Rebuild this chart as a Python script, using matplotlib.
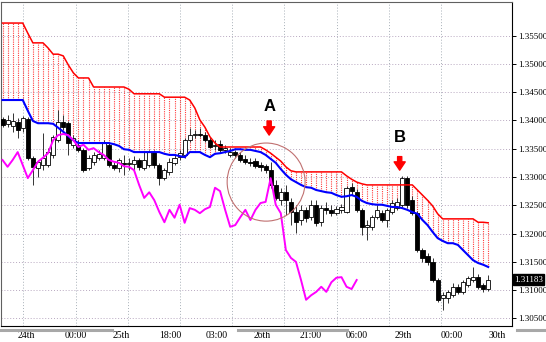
import numpy as np
import matplotlib.pyplot as plt
from matplotlib.patches import Ellipse
from matplotlib.lines import Line2D
import matplotlib.transforms as mtransforms

# candles (hourly bars)
opens = [1.3402, 1.3394, 1.3390, 1.3397, 1.3387, 1.3402, 1.3334, 1.3316, 1.3321, 1.3321,
         1.3339, 1.3365, 1.3397, 1.3395, 1.3357, 1.3357, 1.3348, 1.3316, 1.3327, 1.3334,
         1.3334, 1.3357, 1.3321, 1.3316, 1.3325, 1.3323, 1.3323, 1.3330, 1.3316, 1.3321,
         1.3344, 1.3321, 1.3298, 1.3309, 1.3325, 1.3335, 1.3339, 1.3365, 1.3374, 1.3376,
         1.3374, 1.3365, 1.3355, 1.3358, 1.3348, 1.3339, 1.3344, 1.3339, 1.3332, 1.3327,
         1.3328, 1.3321, 1.3319, 1.3312, 1.3286, 1.3259, 1.3273, 1.3256, 1.3238, 1.3224,
         1.3242, 1.3229, 1.3251, 1.3220, 1.3245, 1.3242, 1.3236, 1.3242, 1.3238, 1.3282,
         1.3273, 1.3242, 1.3212, 1.3212, 1.3229, 1.3236, 1.3224, 1.3238, 1.3245, 1.3251,
         1.3298, 1.3259, 1.3236, 1.3171, 1.3160, 1.3150, 1.3118, 1.3086, 1.3086, 1.3091,
         1.3106, 1.3097, 1.3109, 1.3118, 1.3123, 1.3109, 1.3102]
highs = [1.3406, 1.3410, 1.3413, 1.3404, 1.3408, 1.3406, 1.3337, 1.3330, 1.3378, 1.3351,
         1.3374, 1.3418, 1.3410, 1.3399, 1.3374, 1.3365, 1.3351, 1.3339, 1.3344, 1.3348,
         1.3365, 1.3362, 1.3327, 1.3334, 1.3339, 1.3334, 1.3337, 1.3334, 1.3344, 1.3348,
         1.3348, 1.3325, 1.3316, 1.3334, 1.3339, 1.3348, 1.3369, 1.3387, 1.3383, 1.3387,
         1.3380, 1.3371, 1.3365, 1.3365, 1.3357, 1.3351, 1.3348, 1.3344, 1.3339, 1.3334,
         1.3334, 1.3327, 1.3323, 1.3327, 1.3295, 1.3281, 1.3286, 1.3263, 1.3251, 1.3251,
         1.3247, 1.3259, 1.3259, 1.3251, 1.3256, 1.3251, 1.3249, 1.3252, 1.3284, 1.3289,
         1.3279, 1.3245, 1.3224, 1.3233, 1.3251, 1.3242, 1.3245, 1.3259, 1.3263, 1.3302,
         1.3302, 1.3266, 1.3240, 1.3175, 1.3166, 1.3157, 1.3122, 1.3097, 1.3100, 1.3113,
         1.3111, 1.3118, 1.3125, 1.3141, 1.3129, 1.3113, 1.3127]
lows = [1.3388, 1.3388, 1.3380, 1.3369, 1.3380, 1.3330, 1.3286, 1.3300, 1.3312, 1.3318,
        1.3334, 1.3362, 1.3383, 1.3339, 1.3351, 1.3344, 1.3309, 1.3312, 1.3321, 1.3330,
        1.3330, 1.3318, 1.3312, 1.3309, 1.3304, 1.3312, 1.3309, 1.3312, 1.3312, 1.3318,
        1.3316, 1.3286, 1.3295, 1.3304, 1.3321, 1.3330, 1.3334, 1.3362, 1.3369, 1.3371,
        1.3362, 1.3351, 1.3348, 1.3344, 1.3342, 1.3335, 1.3334, 1.3327, 1.3323, 1.3319,
        1.3316, 1.3311, 1.3307, 1.3281, 1.3259, 1.3251, 1.3233, 1.3215, 1.3201, 1.3215,
        1.3220, 1.3224, 1.3213, 1.3213, 1.3235, 1.3231, 1.3233, 1.3236, 1.3236, 1.3268,
        1.3238, 1.3198, 1.3189, 1.3206, 1.3226, 1.3220, 1.3212, 1.3235, 1.3242, 1.3247,
        1.3245, 1.3233, 1.3167, 1.3150, 1.3145, 1.3114, 1.3079, 1.3065, 1.3077, 1.3088,
        1.3093, 1.3093, 1.3106, 1.3114, 1.3102, 1.3097, 1.3099]
closes = [1.3392, 1.3401, 1.3399, 1.3383, 1.3404, 1.3334, 1.3318, 1.3327, 1.3334, 1.3344,
          1.3371, 1.3397, 1.3388, 1.3360, 1.3369, 1.3348, 1.3312, 1.3334, 1.3339, 1.3341,
          1.3360, 1.3321, 1.3316, 1.3330, 1.3323, 1.3325, 1.3330, 1.3318, 1.3330, 1.3344,
          1.3321, 1.3298, 1.3312, 1.3327, 1.3334, 1.3342, 1.3365, 1.3374, 1.3376, 1.3374,
          1.3365, 1.3353, 1.3357, 1.3348, 1.3351, 1.3344, 1.3339, 1.3330, 1.3327, 1.3325,
          1.3319, 1.3318, 1.3312, 1.3286, 1.3263, 1.3273, 1.3259, 1.3238, 1.3220, 1.3242,
          1.3228, 1.3251, 1.3219, 1.3245, 1.3242, 1.3236, 1.3243, 1.3247, 1.3281, 1.3275,
          1.3242, 1.3212, 1.3215, 1.3229, 1.3242, 1.3224, 1.3242, 1.3254, 1.3256, 1.3298,
          1.3251, 1.3236, 1.3171, 1.3157, 1.3150, 1.3118, 1.3083, 1.3091, 1.3097, 1.3106,
          1.3097, 1.3114, 1.3122, 1.3123, 1.3106, 1.3102, 1.3118]

# ichimoku lines
span_b = [1.3572, 1.3572, 1.3572, 1.3572, 1.3572, 1.3554, 1.3537, 1.3537, 1.3537, 1.3528,
          1.3517, 1.3517, 1.3514, 1.3498, 1.3484, 1.3475, 1.3475, 1.3475, 1.3459, 1.3459,
          1.3459, 1.3459, 1.3459, 1.3459, 1.3459, 1.3455, 1.3447, 1.3447, 1.3447, 1.3447,
          1.3447, 1.3447, 1.3441, 1.3441, 1.3441, 1.3441, 1.3441, 1.3436, 1.3422, 1.3401,
          1.3388, 1.3371, 1.3360, 1.3353, 1.3353, 1.3353, 1.3353, 1.3353, 1.3353, 1.3353,
          1.3353, 1.3353, 1.3348, 1.3342, 1.3335, 1.3328, 1.3318, 1.3311, 1.3309, 1.3309,
          1.3309, 1.3309, 1.3309, 1.3309, 1.3309, 1.3309, 1.3309, 1.3309, 1.3302, 1.3296,
          1.3291, 1.3288, 1.3286, 1.3286, 1.3286, 1.3286, 1.3286, 1.3286, 1.3286, 1.3286,
          1.3286, 1.3286, 1.3277, 1.3268, 1.3259, 1.3249, 1.3235, 1.3226, 1.3226, 1.3226,
          1.3226, 1.3226, 1.3226, 1.3226, 1.3220, 1.3220, 1.3219]
kijun = [1.3436, 1.3436, 1.3436, 1.3436, 1.3436, 1.3417, 1.3399, 1.3395, 1.3395, 1.3395,
         1.3394, 1.3387, 1.3380, 1.3372, 1.3365, 1.3360, 1.3360, 1.3360, 1.3360, 1.3360,
         1.3360, 1.3360, 1.3358, 1.3355, 1.3349, 1.3348, 1.3344, 1.3344, 1.3344, 1.3344,
         1.3344, 1.3344, 1.3341, 1.3339, 1.3339, 1.3337, 1.3335, 1.3344, 1.3344, 1.3344,
         1.3339, 1.3335, 1.3341, 1.3342, 1.3344, 1.3346, 1.3349, 1.3349, 1.3348, 1.3348,
         1.3346, 1.3344, 1.3339, 1.3332, 1.3325, 1.3314, 1.3304, 1.3296, 1.3291, 1.3286,
         1.3282, 1.3281, 1.3277, 1.3275, 1.3273, 1.3272, 1.3268, 1.3265, 1.3266, 1.3268,
         1.3265, 1.3258, 1.3254, 1.3252, 1.3251, 1.3251, 1.3249, 1.3247, 1.3247, 1.3245,
         1.3242, 1.3238, 1.3235, 1.3224, 1.3215, 1.3203, 1.3192, 1.3187, 1.3183, 1.3183,
         1.3180, 1.3171, 1.3162, 1.3153, 1.3148, 1.3145, 1.3141]
chikou_shift = 26
last_price = 1.31183

price_ticks = [1.305, 1.310, 1.315, 1.320, 1.325, 1.330, 1.335, 1.340, 1.345, 1.350, 1.355]
time_labels = ['24th', '00:00', '25th', '18:00', '03:00', '26th', '21:00', '06:00', '29th', '00:00', '30th']
time_label_pos = [4.8, 14.5, 23.4, 33.1, 42.4, 51.3, 61.0, 70.1, 79.3, 88.8, 97.7]
vgrid_pos = [4.05, 14.5, 24.8, 35.1, 45.4, 55.6, 66.1, 76.4, 86.7]

idx = np.arange(len(closes))
o = np.array(opens); h = np.array(highs); l = np.array(lows); c = np.array(closes)
sb = np.array(span_b); kj = np.array(kijun)

fig = plt.figure(figsize=(5.46, 3.42), dpi=100)
ax = fig.add_axes([1/546, 16/342, 511/546, 324/342])
ax.set_xlim(-0.3, 100.7)
ax.set_ylim(1.30367, 1.36092)

# grid
for p in price_ticks:
    ax.axhline(p, color='#b8a8c0', lw=0.7, ls=(0, (1, 2)), zorder=0)
for v in vgrid_pos:
    ax.axvline(v, color='#a8b0b8', lw=0.7, ls=(0, (1, 2)), zorder=0)

# cloud hatching
ax.vlines(idx, kj, sb, colors='#ff2a2a', lw=0.8, linestyles=(0, (1, 1)), alpha=0.9, zorder=1)

# candles
ax.vlines(idx, l, h, colors='#333333', lw=0.7, zorder=2)
up = c >= o
body_bot = np.minimum(o, c)
body_h = np.maximum(np.abs(c - o), 0.00004)
ax.bar(idx, body_h, bottom=body_bot, width=0.82,
       color=np.where(up, 'white', 'black'), edgecolor='black', linewidth=0.6, zorder=3)

# lines
ax.plot(idx, sb, color='#ff0000', lw=1.1, zorder=4)
ax.plot(idx, kj, color='#0000ff', lw=1.5, zorder=4)
ax.plot(idx[:-chikou_shift], c[chikou_shift:], color='#ff00ff', lw=1.4, zorder=4)

# annotations
ax.add_patch(Ellipse((52.1, 1.3291), 15.4, 0.0138, fill=False, ec='#c07070', lw=0.8, zorder=5))
ax.text(52.7, 1.3424, 'A', ha='center', va='center', fontsize=12, fontweight='bold',
        family='Liberation Sans')
ax.text(78.5, 1.3369, 'B', ha='center', va='center', fontsize=12, fontweight='bold',
        family='Liberation Sans')
arrow = dict(facecolor='red', edgecolor='red', width=3, headwidth=8, headlength=6, shrink=0)
ax.annotate('', xy=(52.7, 1.3374), xytext=(52.7, 1.3399), arrowprops=arrow, zorder=6)
ax.annotate('', xy=(78.5, 1.3312), xytext=(78.5, 1.3336), arrowprops=arrow, zorder=6)

# axes styling
for s in ax.spines.values():
    s.set_color('#606060')
    s.set_linewidth(0.8)
ax.spines['right'].set_color('black')
ax.spines['bottom'].set_color('black')
ax.yaxis.tick_right()
ax.set_yticks(price_ticks)
ax.set_yticklabels(['%.5f' % p for p in price_ticks], family='Liberation Serif', fontsize=6.5)
ax.tick_params(axis='y', length=3, pad=1.5, width=0.7)
ax.set_xticks([])

trans = mtransforms.blended_transform_factory(ax.transData, ax.transAxes)
for lab, pos in zip(time_labels, time_label_pos):
    ax.text(pos, -0.028, lab, transform=trans, ha='center', va='center',
            fontsize=7, family='Liberation Serif', clip_on=False)

ax.annotate('%.5f' % last_price, xy=(1.004, last_price),
            xycoords=('axes fraction', 'data'), va='center', ha='left',
            fontsize=6.5, family='Liberation Serif', color='white',
            bbox=dict(boxstyle='square,pad=0.15', fc='black', ec='black'))

# bottom scroll segments
for x0, x1 in [(0, 112), (238, 347), (517, 546)]:
    fig.add_artist(Line2D([x0/546, x1/546], [12/342, 12/342], transform=fig.transFigure,
                          color='#a8a8a8', lw=2.2))

fig.savefig('out.png', dpi=100)
